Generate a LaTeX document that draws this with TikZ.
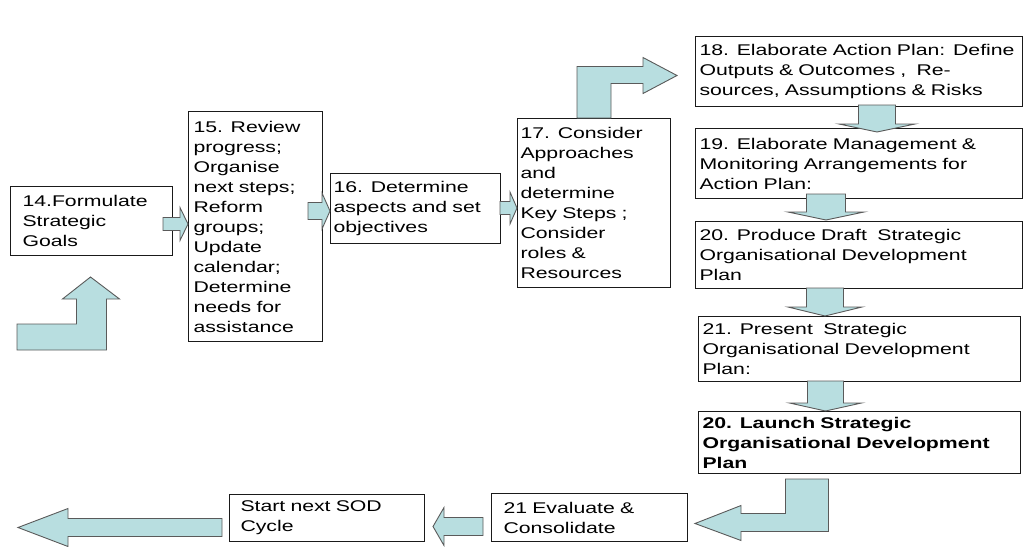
\documentclass[tikz,border=0pt]{standalone}
\usepackage{fontspec}
\setmainfont{Liberation Sans}[FakeStretch=1.37]
\usetikzlibrary{calc}
\definecolor{arrowfill}{HTML}{B8DEE0}
\definecolor{arrowline}{HTML}{5A5A5A}
\definecolor{boxline}{HTML}{1A1A1A}
% straight down block arrow: #1 tail, #2 tip (y used), #3 shaft half, #4 head half, #5 head length
\newcommand{\downblock}[5]{%
  \draw[barrow] let \p1=(#1), \p2=(#2) in
   ({\x1+(#3)},\y1) -- ({\x1+(#3)},{\y2+(#5)}) -- ({\x1+(#4)},{\y2+(#5)}) -- (\x1,\y2)
   -- ({\x1-(#4)},{\y2+(#5)}) -- ({\x1-(#3)},{\y2+(#5)}) -- ({\x1-(#3)},\y1) -- cycle;}
% straight horizontal block arrow: #1 tail, #2 tip (x used), #3 shaft half, #4 head half, #5 head length (+ right, - left)
\newcommand{\sideblock}[5]{%
  \draw[barrow] let \p1=(#1), \p2=(#2) in
   (\x1,{\y1+(#3)}) -- ({\x2-(#5)},{\y1+(#3)}) -- ({\x2-(#5)},{\y1+(#4)}) -- (\x2,\y1)
   -- ({\x2-(#5)},{\y1-(#4)}) -- ({\x2-(#5)},{\y1-(#3)}) -- (\x1,{\y1-(#3)}) -- cycle;}
\begin{document}
\begin{tikzpicture}[x=1pt,y=-1pt,
  box/.style={draw=boxline, line width=1pt, rectangle, anchor=north west, align=left,
    inner ysep=0pt, font=\fontsize{15.5}{20}\selectfont},
  barrow/.style={fill=arrowfill, draw=arrowline, line width=0.9pt, line join=miter}]
\useasboundingbox (0,0) rectangle (1030,546);

% boxes
\node[box, minimum height=69pt, text width=138pt, inner xsep=12pt] (b14) at (10,186)
  {14.Formulate\\Strategic\\Goals};
\node[box, minimum height=230pt, text width=124pt, inner xsep=5pt] (b15) at (188,111)
  {15. Review\\progress;\\Organise\\next steps;\\Reform\\groups;\\Update\\calendar;\\Determine\\needs for\\assistance};
\node[box, minimum height=70pt, text width=164pt, inner xsep=3pt] (b16) at (330,173)
  {16. Determine\\aspects and set\\objectives};
\node[box, minimum height=169pt, text width=147pt, inner xsep=3pt] (b17) at (517,118)
  {17. Consider\\Approaches\\and\\determine\\Key Steps ;\\Consider\\roles \&\\Resources};
\node[box, minimum height=70pt, text width=319pt, inner xsep=4pt] (b18) at (695,36)
  {18. Elaborate Action Plan: Define\\Outputs \& Outcomes ,~ Re-\\sources, Assumptions \& Risks};
\node[box, minimum height=70pt, text width=319pt, inner xsep=4pt] (b19) at (695,128)
  {19. Elaborate Management \&\\Monitoring Arrangements for\\Action Plan:};
\node[box, minimum height=67pt, text width=319pt, inner xsep=4pt] (b20) at (695,221)
  {20. Produce Draft~ Strategic\\Organisational Development\\Plan};
\node[box, minimum height=65pt, text width=314pt, inner xsep=4pt] (b21) at (698,316)
  {21. Present~ Strategic\\Organisational Development\\Plan:};
\node[box, minimum height=62pt, text width=314pt, inner xsep=4pt,
  font=\fontsize{15.5}{20}\selectfont\bfseries] (bL) at (698,411)
  {20. Launch Strategic\\Organisational Development\\Plan};
\node[box, minimum height=48pt, text width=172pt, inner xsep=12pt] (bE) at (491,493)
  {21 Evaluate \&\\Consolidate};
\node[box, minimum height=47pt, text width=173pt, inner xsep=11pt] (bS) at (229,494)
  {Start next SOD\\Cycle};

\coordinate (startU) at (17,337);
\coordinate (endL) at (18,527);

% bent arrow into 14
\draw[barrow] let \p1=(startU), \p2=($(b14.south)+(-1,21)$) in
  (\x1,{\y1+13}) -- ({\x2-14},{\y1+13}) -- ({\x2-14},{\y2-22}) -- ({\x2-28},{\y2-22}) -- (\x2,\y2)
  -- ({\x2+29},{\y2-22}) -- ({\x2+16},{\y2-22}) -- ({\x2+16},{\y1-13}) -- (\x1,{\y1-13}) -- cycle;

% horizontal arrows along the middle row
\sideblock{$(b14.east)+(-10,3)$}{b15.west}{6.5}{16.5}{8}
\sideblock{$(b15.east)+(-15,-15.5)$}{b16.west}{8.5}{18}{8}
\sideblock{$(b16.east)+(-1,-0.5)$}{b17.west}{6.5}{16}{7}

% bent arrow 17 -> 18
\draw[barrow] let \p1=(b17.north), \p2=($(b18.west)+(-18,4)$) in
  ({\x1-17},\y1) -- ({\x1-17},{\y2+9}) -- ({\x2-34},{\y2+9}) -- ({\x2-34},{\y2+18}) -- (\x2,\y2)
  -- ({\x2-34},{\y2-18}) -- ({\x2-34},{\y2-8}) -- ({\x1+17},{\y2-8}) -- ({\x1+17},\y1) -- cycle;

% down arrows in the right column
\downblock{$(b18.south)+(18,-2)$}{$(b19.north)+(0,4)$}{18.5}{38}{8}
\downblock{$(b19.south)+(-33,-5)$}{$(b20.north)+(0,-1)$}{19.5}{38}{8}
\downblock{$(b20.south)+(-34,-1)$}{b21.north}{18.5}{37}{9}
\downblock{$(b21.south)+(-34,-1)$}{bL.north}{18}{36}{8}

% bent arrow Launch -> Evaluate
\draw[barrow] let \p1=($(bL.south)+(-52.5,5)$), \p2=($(bE.east)+(7,6)$) in
  ({\x1-21.5},\y1) -- ({\x1+21.5},\y1) -- ({\x1+21.5},{\y2-8}) -- ({\x2+46},{\y2-8}) -- ({\x2+46},{\y2-17}) -- (\x2,\y2)
  -- ({\x2+46},{\y2+18}) -- ({\x2+46},{\y2+10}) -- ({\x1-21.5},{\y2+10}) -- cycle;

% bottom row arrows to the left
\sideblock{$(bE.west)+(-8,9)$}{$(bS.east)+(8,0)$}{9}{19}{-11}
\sideblock{$(bS.west)+(-7,9.5)$}{endL}{9}{19}{-50}
\end{tikzpicture}
\end{document}
